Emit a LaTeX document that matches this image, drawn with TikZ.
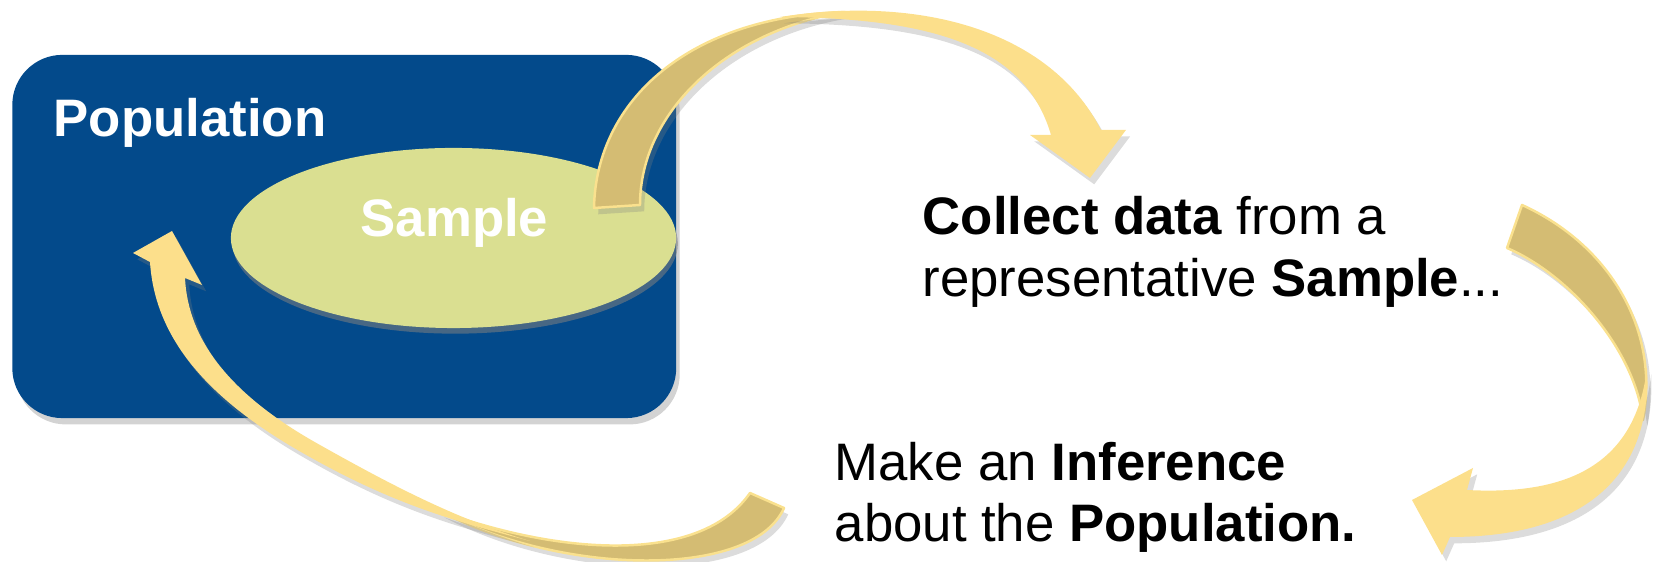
\documentclass[tikz,border=0pt]{standalone}
\usepackage{fontspec}
\setmainfont{Liberation Sans}
\usetikzlibrary{shadows,shapes.geometric}
\definecolor{popblue}{RGB}{3,74,139}
\definecolor{sampfill}{RGB}{218,223,145}
\definecolor{ribfront}{RGB}{252,223,139}
\definecolor{ribback}{RGB}{212,188,115}
\definecolor{ribedge}{RGB}{250,225,142}
\begin{document}
\begin{tikzpicture}[x=0.01cm,y=-0.01cm,
  txt/.style={font=\fontsize{15}{18}\selectfont, inner sep=0pt, anchor=base west},
  wtxt/.style={txt, text=white, font=\fontsize{15}{18}\selectfont\bfseries},
  popbox/.style={fill=popblue, rounded corners=0.5cm, minimum width=6.635cm, minimum height=3.63cm, inner sep=0pt,
    drop shadow={opacity=0.35, shadow xshift=1pt, shadow yshift=-1.8pt}},
  sampbox/.style={ellipse, fill=sampfill, minimum width=4.45cm, minimum height=1.8cm, inner sep=0pt,
    drop shadow={opacity=0.55, shadow xshift=0.5pt, shadow yshift=-1.6pt}},
  ribshadow/.style={drop shadow={opacity=0.28, shadow xshift=1.2pt, shadow yshift=-1.8pt}},
  ribbonfront/.style={fill=ribfront, ribshadow},
  ribbonback/.style={fill=ribback, draw=ribedge, line width=0.7pt, line join=round, ribshadow},
]
\useasboundingbox (0,0) rectangle (1654,562);

% Population box and sample ellipse
\node[popbox] (pop) at (344.25,236.5) {};
\node[sampbox] (samp) at (453.5,238) {};
\node[wtxt] (poplabel) at (53,137) {Population};
\node[wtxt, anchor=base] (samplabel) at (454.5,237) {Sample};

% Arrow 1: Sample -> Collect data (back side, then front side)
\fill[ribbonback] (594,208) .. controls (596,100) and (690,16) .. (845,12)
  .. controls (730,30) and (640,110) .. (640,205) -- cycle;
\fill[ribbonfront] (780,17) .. controls (920,-5) and (1050,30) .. (1101,130)
  -- (1126,130) -- (1090,178) -- (1030,135) -- (1051,135)
  .. controls (1025,45) and (930,18) .. (780,17) -- cycle;

% Arrow 2: Collect data -> Make an Inference
\fill[ribbonback] (1522,205) .. controls (1610,245) and (1660,330) .. (1643,420)
  .. controls (1635,350) and (1570,275) .. (1507,248) -- cycle;
\fill[ribbonfront] (1647,368) .. controls (1652,480) and (1580,537) .. (1450,537)
  -- (1442,555) -- (1412,500) -- (1473,468) -- (1467,490)
  .. controls (1560,495) and (1635,470) .. (1647,368) -- cycle;

% Arrow 3: Make an Inference -> Population
\fill[ribbonback] (440,511) .. controls (560,555) and (700,565) .. (750,493)
  -- (784,508) .. controls (752,580) and (560,575) .. (440,511) -- cycle;
\fill[ribbonfront] (150,262) .. controls (155,340) and (210,400) .. (301,452)
  .. controls (390,503) and (450,520) .. (530,541)
  .. controls (460,520) and (400,490) .. (320,445)
  .. controls (230,395) and (188,340) .. (185,278)
  -- (202,285) -- (172,231) -- (133,253) -- cycle;

% Texts
\node[txt] (collect) at (922,235) {\textbf{Collect data} from a};
\node[txt] (repr) at (922,297) {representative \textbf{Sample}...};
\node[txt] (infer) at (834,481) {Make an \textbf{Inference}};
\node[txt] (about) at (834,542) {about the \textbf{Population.}};
\end{tikzpicture}
\end{document}
